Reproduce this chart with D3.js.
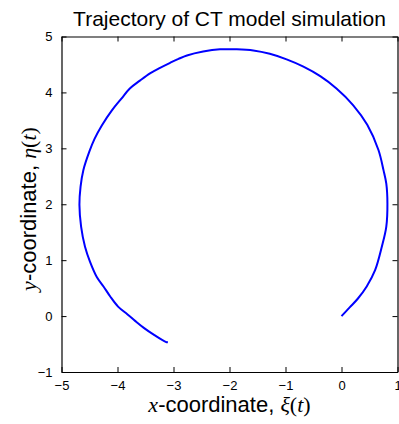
<!DOCTYPE html>
<html>
  <head>
    <meta charset="utf-8">
    <title>Trajectory of CT model simulation</title>
    <script src="https://d3js.org/d3.v7.min.js"></script>
    <style>
      body { margin: 0; background: #fff; }
    </style>
  </head>
  <body>
    <div id="chart"></div>
    <script>
      // trajectory, from start (0,0) counter-clockwise
      const xi = [0.00, 0.15, 0.29, 0.45, 0.60, 0.72, 0.80, 0.82, 0.80, 0.75, 0.66, 0.46, 0.21,
                  -0.09, -0.38, -0.68, -0.98, -1.28, -1.575, -1.87, -2.17, -2.47, -2.76, -2.91,
                  -3.06, -3.24, -3.42, -3.60, -3.78, -3.93, -4.10, -4.28, -4.41, -4.50, -4.61,
                  -4.66, -4.68, -4.65, -4.58, -4.49, -4.37, -4.25, -4.13, -3.99, -3.82, -3.68,
                  -3.53, -3.34, -3.14, -3.10];
      const eta = [0.00, 0.16, 0.31, 0.53, 0.82, 1.24, 1.60, 2.02, 2.37, 2.61, 2.97, 3.42, 3.77,
                   4.07, 4.29, 4.46, 4.59, 4.69, 4.75, 4.77, 4.77, 4.73, 4.66, 4.60,
                   4.53, 4.44, 4.34, 4.21, 4.07, 3.89, 3.68, 3.41, 3.17, 2.95, 2.61,
                   2.31, 1.99, 1.60, 1.24, 0.97, 0.70, 0.53, 0.35, 0.17, 0.03, -0.09,
                   -0.21, -0.34, -0.46, -0.47];
      const xTicks = [-5, -4, -3, -2, -1, 0, 1];
      const yTicks = [-1, 0, 1, 2, 3, 4, 5];

      const width = 399, height = 424;
      const margin = {top: 36.5, right: 1.5, bottom: 52, left: 61.5};
      const svg = d3.select("#chart").append("svg")
                    .attr("width", width)
                    .attr("height", height);

      const xScale = d3.scaleLinear().domain([-5, 1])
                       .range([margin.left, width - margin.right]);
      const yScale = d3.scaleLinear().domain([-1, 5])
                       .range([height - margin.bottom, margin.top]);

      const tickLen = 5;
      const font = "'Liberation Sans', Arial, Helvetica, sans-serif";
      const serif = "'Liberation Serif', 'Times New Roman', serif";
      const fmt = d3.format("d");

      // axes, ticks pointing inward, on all four sides
      const xAxisBottom = d3.axisBottom(xScale).tickValues(xTicks).tickFormat(fmt).tickSizeInner(-tickLen).tickSizeOuter(0).tickPadding(9);
      const xAxisTop = d3.axisTop(xScale).tickValues(xTicks).tickSizeInner(-tickLen).tickSizeOuter(0).tickFormat("");
      const yAxisLeft = d3.axisLeft(yScale).tickValues(yTicks).tickFormat(fmt).tickSizeInner(-tickLen).tickSizeOuter(0).tickPadding(9);
      const yAxisRight = d3.axisRight(yScale).tickValues(yTicks).tickSizeInner(-tickLen).tickSizeOuter(0).tickFormat("");

      const axes = [
        svg.append("g").attr("transform", `translate(0, ${height - margin.bottom})`).call(xAxisBottom),
        svg.append("g").attr("transform", `translate(0, ${margin.top})`).call(xAxisTop),
        svg.append("g").attr("transform", `translate(${margin.left}, 0)`).call(yAxisLeft),
        svg.append("g").attr("transform", `translate(${width - margin.right}, 0)`).call(yAxisRight)
      ];
      axes.forEach(g => {
        g.select(".domain").attr("stroke", "#000").attr("stroke-width", 1.2);
        g.selectAll(".tick line").attr("stroke", "#000").attr("stroke-width", 1);
        g.selectAll(".tick text").attr("font-size", 13).attr("font-family", font).attr("fill", "#000");
      });

      // trajectory
      const pts = xi.map((d, i) => [d, eta[i]]);
      svg.append("path")
         .datum(pts)
         .attr("fill", "none")
         .attr("stroke", "#0000ff")
         .attr("stroke-width", 2)
         .attr("stroke-linejoin", "round")
         .attr("d", d3.line().x(d => xScale(d[0])).y(d => yScale(d[1])).curve(d3.curveCatmullRom));

      // title
      svg.append("text")
         .attr("x", (margin.left + width - margin.right) / 2)
         .attr("y", 26)
         .attr("text-anchor", "middle")
         .attr("font-size", 21)
         .attr("font-family", font)
         .text("Trajectory of CT model simulation");

      // x label
      const xl = svg.append("text")
                    .attr("x", (margin.left + width - margin.right) / 2)
                    .attr("y", 412)
                    .attr("text-anchor", "middle")
                    .attr("font-size", 22);
      xl.append("tspan").attr("font-family", serif).attr("font-style", "italic").text("x");
      xl.append("tspan").attr("font-family", font).text("-coordinate, ");
      xl.append("tspan").attr("font-family", serif).attr("font-style", "italic").text("ξ");
      xl.append("tspan").attr("font-family", serif).text("(");
      xl.append("tspan").attr("font-family", serif).attr("font-style", "italic").text("t");
      xl.append("tspan").attr("font-family", serif).text(")");

      // y label
      const yl = svg.append("text")
                    .attr("transform", `translate(36, 209) rotate(-90)`)
                    .attr("text-anchor", "middle")
                    .attr("font-size", 22);
      yl.append("tspan").attr("font-family", serif).attr("font-style", "italic").text("y");
      yl.append("tspan").attr("font-family", font).text("-coordinate, ");
      yl.append("tspan").attr("font-family", serif).attr("font-style", "italic").text("η");
      yl.append("tspan").attr("font-family", serif).text("(");
      yl.append("tspan").attr("font-family", serif).attr("font-style", "italic").text("t");
      yl.append("tspan").attr("font-family", serif).text(")");
    </script>
  </body>
</html>
